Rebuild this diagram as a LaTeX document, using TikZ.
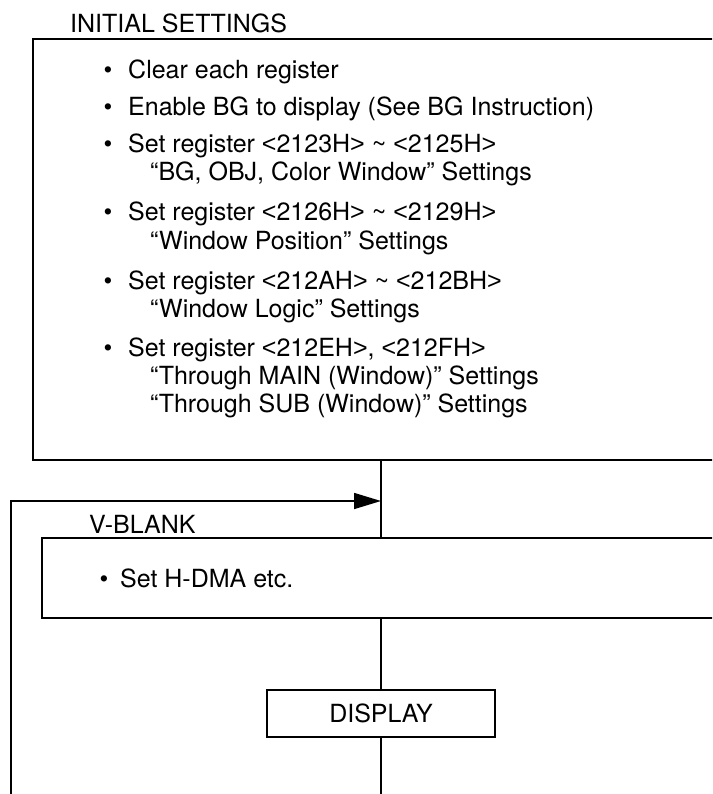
\documentclass[tikz,border=0pt]{standalone}
\usepackage{fontspec}
\setmainfont{TeX Gyre Heros}
\newfontfamily\symfont{Liberation Sans}
\newcommand{\ltsym}{{\symfont\symbol{"3C}}}
\newcommand{\gtsym}{{\symfont\symbol{"3E}}}
\usetikzlibrary{arrows.meta}
\begin{document}
\begin{tikzpicture}[x=1pt,y=-1pt,
  box/.style={draw,line width=1.6pt,rectangle,inner sep=0pt},
  txt/.style={anchor=base west,inner sep=0pt,font=\fontsize{25}{28}\selectfont},
  bul/.style={anchor=base,inner sep=0pt,font=\fontsize{25}{28}\selectfont},
  conn/.style={line width=1.6pt}]
\useasboundingbox (0,0) rectangle (712,794);
\clip (0,0) rectangle (712,794);
% boxes
\node[box,minimum width=727pt,minimum height=421pt] (init) at (396.5,249.5) {};
\node[box,minimum width=718pt,minimum height=80pt] (vblank) at (401,578) {};
\node[box,minimum width=228pt,minimum height=47pt,font=\fontsize{25}{28}\selectfont] (display) at (381,713.5) {DISPLAY};
% labels
\node[txt] (initlabel) at (70,33) {INITIAL SETTINGS};
\node[txt] (vblanklabel) at (89,533) {V-BLANK};
% initial settings text
\node[bul] (b1) at (108,79) {•};
\node[txt] (t1) at (128,79) {Clear each register};
\node[bul] (b2) at (108,116) {•};
\node[txt] (t2) at (128,116) {Enable BG to display (See BG Instruction)};
\node[bul] (b3) at (108,153) {•};
\node[txt] (t3) at (128,153) {Set register \ltsym2123H\gtsym{} \textasciitilde{} \ltsym2125H\gtsym};
\node[txt] (t3b) at (150,181) {“BG, OBJ, Color Window” Settings};
\node[bul] (b4) at (108,221) {•};
\node[txt] (t4) at (128,221) {Set register \ltsym2126H\gtsym{} \textasciitilde{} \ltsym2129H\gtsym};
\node[txt] (t4b) at (150,249) {“Window Position” Settings};
\node[bul] (b5) at (108,289) {•};
\node[txt] (t5) at (128,289) {Set register \ltsym212AH\gtsym{} \textasciitilde{} \ltsym212BH\gtsym};
\node[txt] (t5b) at (150,317) {“Window Logic” Settings};
\node[bul] (b6) at (108,356) {•};
\node[txt] (t6) at (128,356) {Set register \ltsym212EH\gtsym, \ltsym212FH\gtsym};
\node[txt] (t6b) at (150,384) {“Through MAIN (Window)” Settings};
\node[txt] (t6c) at (150,412) {“Through SUB (Window)” Settings};
% v-blank text
\node[bul] (b7) at (104,587) {•};
\node[txt] (t7) at (120,587) {Set H-DMA etc.};
% connectors
\coordinate (merge) at (381,501);
\coordinate (loopstart) at (11,800);
\coordinate (bottom) at (381,800);
\draw[conn] (init.south -| display.north) -- (vblank.north -| display.north);
\draw[conn] (vblank.south -| display.north) -- (display.north);
\draw[conn] (display.south) -- (bottom);
\draw[conn,-{Triangle[length=27pt,width=16pt]}] (loopstart) |- (merge);
\end{tikzpicture}
\end{document}
